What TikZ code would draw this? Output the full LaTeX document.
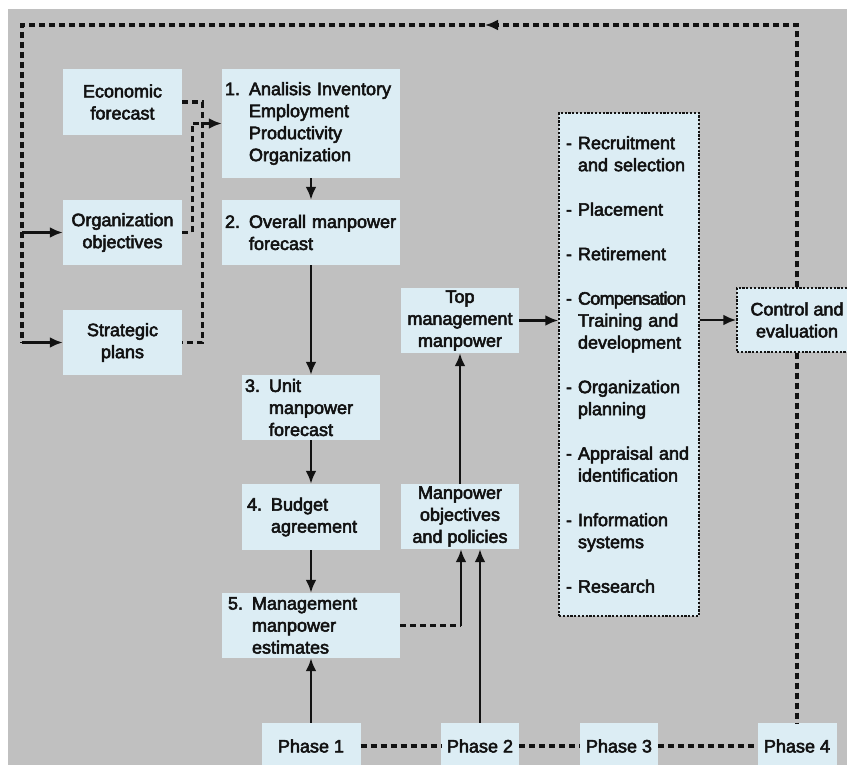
\documentclass[tikz,border=0pt]{standalone}
\usepackage{fontspec}
\newfontfamily\lblfont{Liberation Sans}[FakeBold=3]
\newfontfamily\tightfont{Liberation Sans}[FakeBold=3, LetterSpace=-4]
\usetikzlibrary{arrows.meta}
\definecolor{panel}{RGB}{192,192,192}
\definecolor{boxfill}{RGB}{220,237,244}
\definecolor{ink}{RGB}{18,18,18}
% hanging indents for numbered and dashed entries
\newcommand\numind{\hphantom{0. }}
\newcommand\dashind{\hphantom{- }}
\begin{document}
\begin{tikzpicture}[x=1pt,y=-1pt,
  font=\lblfont\fontsize{18}{22}\selectfont,
  box/.style={fill=boxfill, inner sep=0pt, text=ink},
  cbox/.style={box, align=center},
  lbox/.style={box, align=left},
  dotbox/.style={draw=ink, line width=1.4pt, dash pattern=on 2.2pt off 1.6pt},
  headtip/.style={-{Latex[length=13pt,width=11pt]}},
  flow/.style={draw=ink, line width=2.8pt, headtip},
  link/.style={draw=ink, line width=3.2pt, dash pattern=on 6pt off 4pt},
  linkarrow/.style={link, headtip},
]
\useasboundingbox (0,0) rectangle (847,765);
\fill[white] (0,0) rectangle (847,765);
\fill[panel] (8,9) rectangle (847,765);

% inputs
\node[cbox, minimum width=119pt, minimum height=66pt] (econ) at (122.5,102) {Economic\\forecast};
\node[cbox, minimum width=119pt, minimum height=65pt] (orgobj) at (122.5,232.5) {Organization\\objectives};
\node[cbox, minimum width=119pt, minimum height=65pt] (strat) at (122.5,342.5) {Strategic\\plans};

% phase 1 chain
\node[lbox, text width=172pt, inner xsep=3pt, minimum height=109pt] (inv) at (311,123.5)
  {1. Analisis Inventory\\\numind Employment\\\numind Productivity\\\numind Organization};
\node[lbox, text width=172pt, inner xsep=3pt, minimum height=65pt] (overall) at (311,232.5)
  {2. Overall manpower\\\numind forecast};
\node[lbox, text width=132pt, inner xsep=3pt, minimum height=65pt] (unit) at (311,407.5)
  {3. Unit\\\numind manpower\\\numind forecast};
\node[lbox, text width=128pt, inner xsep=5pt, minimum height=66pt] (budget) at (311,517)
  {4. Budget\\\numind agreement};
\node[lbox, text width=166pt, inner xsep=6pt, minimum height=65pt] (mgmt) at (311,625.5)
  {5. Management\\\numind manpower\\\numind estimates};

% phase 2
\node[cbox, minimum width=118pt, minimum height=65pt] (topm) at (460,320.5) {Top\\management\\manpower};
\node[cbox, minimum width=118pt, minimum height=65pt] (mobj) at (460,516.5) {Manpower\\objectives\\and policies};

% phase 3 activities
\node[lbox, dotbox, text width=126pt, inner xsep=7pt, minimum height=503pt] (acts) at (629,364.5)
  {- Recruitment\\\dashind and selection\\[22.5pt]
   - Placement\\[22.5pt]
   - Retirement\\[22.5pt]
   - {\tightfont Compensation}\\\dashind Training and\\\dashind development\\[22.5pt]
   - Organization\\\dashind planning\\[22.5pt]
   - Appraisal and\\\dashind identification\\[22.5pt]
   - Information\\\dashind systems\\[22.5pt]
   - Research};

% phase 4
\node[cbox, dotbox, minimum width=120pt, minimum height=64pt] (ctrl) at (797,320) {Control and\\evaluation};

% phase labels
\node[cbox, minimum width=99pt, minimum height=46pt] (ph1) at (311,746) {Phase 1};
\node[cbox, minimum width=78pt, minimum height=46pt] (ph2) at (480,746) {Phase 2};
\node[cbox, minimum width=78pt, minimum height=46pt] (ph3) at (619,746) {Phase 3};
\node[cbox, minimum width=79pt, minimum height=46pt] (ph4) at (797,746) {Phase 4};

% feedback loop
\coordinate (ltop) at (22,25);
\coordinate (rtop) at (797,25);
\coordinate (tmid) at (485,25);
\coordinate (lorg) at (22,232.5);
\coordinate (lstr) at (22,342.5);
\draw[linkarrow] (ctrl.north) -- (rtop) -- (tmid);
\draw[link] (tmid) -- (ltop) -- (lstr);
\draw[flow] (lorg) -- (orgobj.west);
\draw[flow] (lstr) -- (strat.west);

% inputs into the analysis
\draw[link] (econ.east) -- ++(20,0) |- (strat.east);
\draw[linkarrow] (orgobj.east) -- ++(10,0) |- (inv.west);

% main chain
\draw[flow] (inv) -- (overall);
\draw[flow] (overall) -- (unit);
\draw[flow] (unit) -- (budget);
\draw[flow] (budget) -- (mgmt);
\draw[flow] (ph1) -- (mgmt);

% towards objectives and top management
\coordinate (mj) at (461,625.5);
\draw[link] (mgmt.east) -- (mj);
\draw[flow] (mj) -- (mj |- mobj.south);
\draw[flow] (ph2.north) -- (ph2.north |- mobj.south);
\draw[flow] (mobj) -- (topm);
\draw[flow] (topm.east) -- (topm.east -| acts.west);
\draw[flow] (acts.east |- ctrl.west) -- (ctrl.west);
\draw[link] (ctrl.south) -- (ph4.north);

% phase line
\draw[link] (ph1.east) -- (ph2.west);
\draw[link] (ph2.east) -- (ph3.west);
\draw[link] (ph3.east) -- (ph4.west);
\end{tikzpicture}
\end{document}
